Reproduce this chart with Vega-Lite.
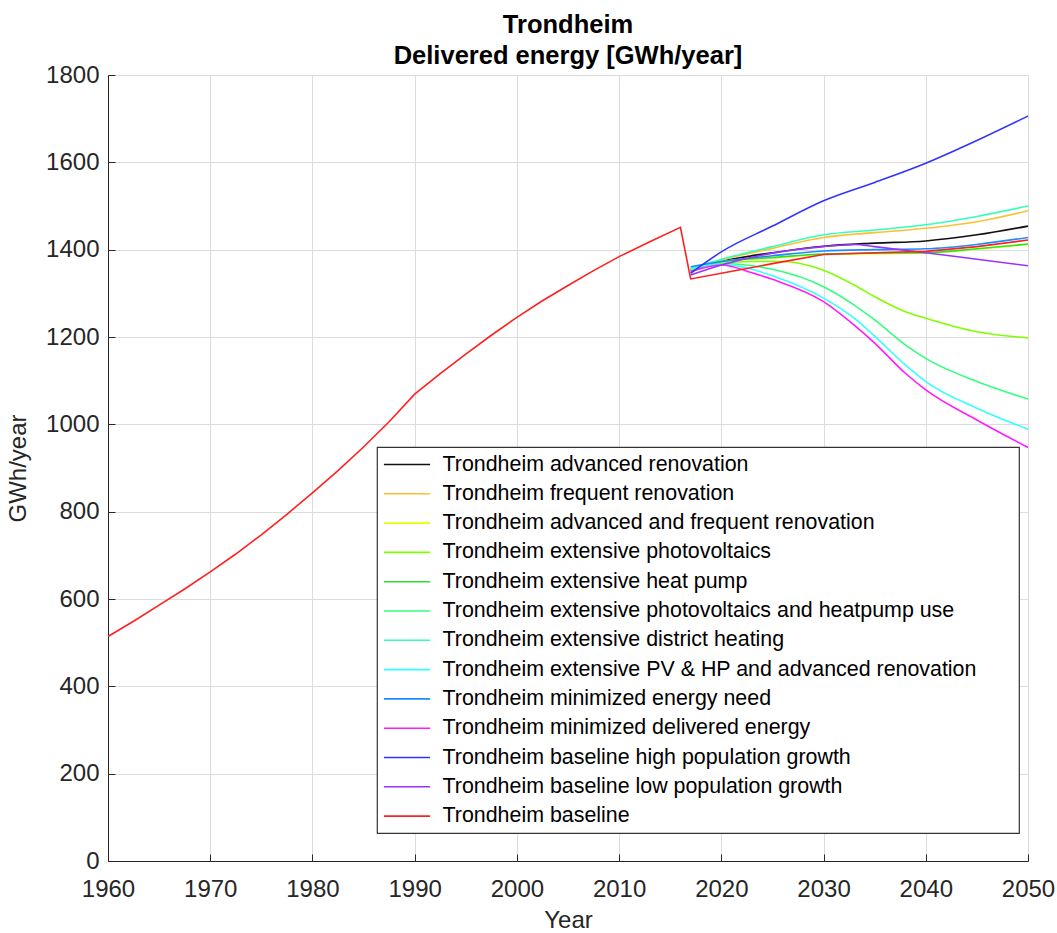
{
  "$schema": "https://vega.github.io/schema/vega-lite/v6.json",
  "autosize": {"type": "none"},
  "padding": {"left": 108, "top": 75, "right": 29, "bottom": 72},
  "width": 920,
  "height": 786,
  "background": "white",
  "config": {
    "view": {"stroke": null},
    "font": "Liberation Sans",
    "axis": {
      "labelFont": "Liberation Sans",
      "titleFont": "Liberation Sans",
      "labelFontSize": 24,
      "titleFontSize": 24,
      "titleFontWeight": "normal",
      "labelColor": "#262626",
      "titleColor": "#262626",
      "domainColor": "#262626",
      "tickColor": "#262626",
      "domainWidth": 1,
      "tickWidth": 1,
      "tickSize": -7,
      "gridColor": "#DCDCDC",
      "gridWidth": 1,
      "labelFlush": false,
      "labelOverlap": false
    }
  },
  "title": {
    "text": ["Trondheim", "Delivered energy [GWh/year]"],
    "fontSize": 25.5,
    "font": "Liberation Sans",
    "fontWeight": "bold",
    "color": "#000000",
    "lineHeight": 31,
    "offset": -6,
    "anchor": "middle"
  },
  "data": {
    "values": [
      {"s": "Trondheim advanced renovation", "year": 2017, "v": 1353},
      {"s": "Trondheim advanced renovation", "year": 2020, "v": 1373},
      {"s": "Trondheim advanced renovation", "year": 2025, "v": 1393},
      {"s": "Trondheim advanced renovation", "year": 2030, "v": 1408},
      {"s": "Trondheim advanced renovation", "year": 2035, "v": 1415},
      {"s": "Trondheim advanced renovation", "year": 2040, "v": 1420},
      {"s": "Trondheim advanced renovation", "year": 2045, "v": 1434},
      {"s": "Trondheim advanced renovation", "year": 2050, "v": 1454},

      {"s": "Trondheim frequent renovation", "year": 2017, "v": 1353},
      {"s": "Trondheim frequent renovation", "year": 2020, "v": 1376},
      {"s": "Trondheim frequent renovation", "year": 2025, "v": 1403},
      {"s": "Trondheim frequent renovation", "year": 2030, "v": 1428},
      {"s": "Trondheim frequent renovation", "year": 2035, "v": 1439},
      {"s": "Trondheim frequent renovation", "year": 2040, "v": 1449},
      {"s": "Trondheim frequent renovation", "year": 2045, "v": 1464},
      {"s": "Trondheim frequent renovation", "year": 2050, "v": 1489},

      {"s": "Trondheim advanced and frequent renovation", "year": 2017, "v": 1355},
      {"s": "Trondheim advanced and frequent renovation", "year": 2020, "v": 1372},
      {"s": "Trondheim advanced and frequent renovation", "year": 2025, "v": 1381},
      {"s": "Trondheim advanced and frequent renovation", "year": 2030, "v": 1389},
      {"s": "Trondheim advanced and frequent renovation", "year": 2035, "v": 1391},
      {"s": "Trondheim advanced and frequent renovation", "year": 2040, "v": 1392},
      {"s": "Trondheim advanced and frequent renovation", "year": 2045, "v": 1401},
      {"s": "Trondheim advanced and frequent renovation", "year": 2050, "v": 1412},

      {"s": "Trondheim extensive photovoltaics", "year": 2017, "v": 1350},
      {"s": "Trondheim extensive photovoltaics", "year": 2020, "v": 1369},
      {"s": "Trondheim extensive photovoltaics", "year": 2023, "v": 1373},
      {"s": "Trondheim extensive photovoltaics", "year": 2026, "v": 1373},
      {"s": "Trondheim extensive photovoltaics", "year": 2030, "v": 1353},
      {"s": "Trondheim extensive photovoltaics", "year": 2033, "v": 1319},
      {"s": "Trondheim extensive photovoltaics", "year": 2035, "v": 1292},
      {"s": "Trondheim extensive photovoltaics", "year": 2038, "v": 1258},
      {"s": "Trondheim extensive photovoltaics", "year": 2040, "v": 1243},
      {"s": "Trondheim extensive photovoltaics", "year": 2045, "v": 1212},
      {"s": "Trondheim extensive photovoltaics", "year": 2050, "v": 1198},

      {"s": "Trondheim extensive heat pump", "year": 2017, "v": 1357},
      {"s": "Trondheim extensive heat pump", "year": 2020, "v": 1373},
      {"s": "Trondheim extensive heat pump", "year": 2025, "v": 1382},
      {"s": "Trondheim extensive heat pump", "year": 2030, "v": 1390},
      {"s": "Trondheim extensive heat pump", "year": 2035, "v": 1392},
      {"s": "Trondheim extensive heat pump", "year": 2040, "v": 1393},
      {"s": "Trondheim extensive heat pump", "year": 2045, "v": 1402},
      {"s": "Trondheim extensive heat pump", "year": 2050, "v": 1413},

      {"s": "Trondheim extensive photovoltaics and heatpump use", "year": 2017, "v": 1352},
      {"s": "Trondheim extensive photovoltaics and heatpump use", "year": 2020, "v": 1369},
      {"s": "Trondheim extensive photovoltaics and heatpump use", "year": 2023, "v": 1363},
      {"s": "Trondheim extensive photovoltaics and heatpump use", "year": 2025, "v": 1355},
      {"s": "Trondheim extensive photovoltaics and heatpump use", "year": 2030, "v": 1315},
      {"s": "Trondheim extensive photovoltaics and heatpump use", "year": 2033, "v": 1273},
      {"s": "Trondheim extensive photovoltaics and heatpump use", "year": 2035, "v": 1239},
      {"s": "Trondheim extensive photovoltaics and heatpump use", "year": 2038, "v": 1182},
      {"s": "Trondheim extensive photovoltaics and heatpump use", "year": 2040, "v": 1151},
      {"s": "Trondheim extensive photovoltaics and heatpump use", "year": 2045, "v": 1098},
      {"s": "Trondheim extensive photovoltaics and heatpump use", "year": 2050, "v": 1058},

      {"s": "Trondheim extensive district heating", "year": 2017, "v": 1357},
      {"s": "Trondheim extensive district heating", "year": 2020, "v": 1378},
      {"s": "Trondheim extensive district heating", "year": 2025, "v": 1407},
      {"s": "Trondheim extensive district heating", "year": 2030, "v": 1434},
      {"s": "Trondheim extensive district heating", "year": 2035, "v": 1445},
      {"s": "Trondheim extensive district heating", "year": 2040, "v": 1457},
      {"s": "Trondheim extensive district heating", "year": 2045, "v": 1476},
      {"s": "Trondheim extensive district heating", "year": 2050, "v": 1500},

      {"s": "Trondheim extensive PV & HP and advanced renovation", "year": 2017, "v": 1357},
      {"s": "Trondheim extensive PV & HP and advanced renovation", "year": 2020, "v": 1366},
      {"s": "Trondheim extensive PV & HP and advanced renovation", "year": 2023, "v": 1355},
      {"s": "Trondheim extensive PV & HP and advanced renovation", "year": 2025, "v": 1340},
      {"s": "Trondheim extensive PV & HP and advanced renovation", "year": 2030, "v": 1289},
      {"s": "Trondheim extensive PV & HP and advanced renovation", "year": 2033, "v": 1243},
      {"s": "Trondheim extensive PV & HP and advanced renovation", "year": 2035, "v": 1202},
      {"s": "Trondheim extensive PV & HP and advanced renovation", "year": 2038, "v": 1136},
      {"s": "Trondheim extensive PV & HP and advanced renovation", "year": 2040, "v": 1098},
      {"s": "Trondheim extensive PV & HP and advanced renovation", "year": 2045, "v": 1037},
      {"s": "Trondheim extensive PV & HP and advanced renovation", "year": 2050, "v": 989},

      {"s": "Trondheim minimized energy need", "year": 2017, "v": 1361},
      {"s": "Trondheim minimized energy need", "year": 2020, "v": 1373},
      {"s": "Trondheim minimized energy need", "year": 2025, "v": 1386},
      {"s": "Trondheim minimized energy need", "year": 2030, "v": 1397},
      {"s": "Trondheim minimized energy need", "year": 2035, "v": 1400},
      {"s": "Trondheim minimized energy need", "year": 2040, "v": 1402},
      {"s": "Trondheim minimized energy need", "year": 2045, "v": 1412},
      {"s": "Trondheim minimized energy need", "year": 2050, "v": 1428},

      {"s": "Trondheim minimized delivered energy", "year": 2017, "v": 1350},
      {"s": "Trondheim minimized delivered energy", "year": 2020, "v": 1365},
      {"s": "Trondheim minimized delivered energy", "year": 2023, "v": 1347},
      {"s": "Trondheim minimized delivered energy", "year": 2025, "v": 1332},
      {"s": "Trondheim minimized delivered energy", "year": 2030, "v": 1281},
      {"s": "Trondheim minimized delivered energy", "year": 2033, "v": 1227},
      {"s": "Trondheim minimized delivered energy", "year": 2035, "v": 1186},
      {"s": "Trondheim minimized delivered energy", "year": 2038, "v": 1117},
      {"s": "Trondheim minimized delivered energy", "year": 2040, "v": 1079},
      {"s": "Trondheim minimized delivered energy", "year": 2045, "v": 1010},
      {"s": "Trondheim minimized delivered energy", "year": 2050, "v": 947},

      {"s": "Trondheim baseline high population growth", "year": 2017, "v": 1346},
      {"s": "Trondheim baseline high population growth", "year": 2020, "v": 1395},
      {"s": "Trondheim baseline high population growth", "year": 2025, "v": 1454},
      {"s": "Trondheim baseline high population growth", "year": 2030, "v": 1512},
      {"s": "Trondheim baseline high population growth", "year": 2035, "v": 1554},
      {"s": "Trondheim baseline high population growth", "year": 2040, "v": 1598},
      {"s": "Trondheim baseline high population growth", "year": 2045, "v": 1650},
      {"s": "Trondheim baseline high population growth", "year": 2050, "v": 1706},

      {"s": "Trondheim baseline low population growth", "year": 2017, "v": 1342},
      {"s": "Trondheim baseline low population growth", "year": 2020, "v": 1365},
      {"s": "Trondheim baseline low population growth", "year": 2025, "v": 1392},
      {"s": "Trondheim baseline low population growth", "year": 2030, "v": 1407},
      {"s": "Trondheim baseline low population growth", "year": 2033, "v": 1412},
      {"s": "Trondheim baseline low population growth", "year": 2035, "v": 1407},
      {"s": "Trondheim baseline low population growth", "year": 2040, "v": 1393},
      {"s": "Trondheim baseline low population growth", "year": 2045, "v": 1378},
      {"s": "Trondheim baseline low population growth", "year": 2050, "v": 1363},

      {"s": "Trondheim baseline", "year": 1960, "v": 514},
      {"s": "Trondheim baseline", "year": 1962.5, "v": 549},
      {"s": "Trondheim baseline", "year": 1965, "v": 586},
      {"s": "Trondheim baseline", "year": 1967.5, "v": 623},
      {"s": "Trondheim baseline", "year": 1970, "v": 662},
      {"s": "Trondheim baseline", "year": 1972.5, "v": 703},
      {"s": "Trondheim baseline", "year": 1975, "v": 747},
      {"s": "Trondheim baseline", "year": 1977.5, "v": 794},
      {"s": "Trondheim baseline", "year": 1980, "v": 843},
      {"s": "Trondheim baseline", "year": 1982.5, "v": 894},
      {"s": "Trondheim baseline", "year": 1985, "v": 948},
      {"s": "Trondheim baseline", "year": 1987.5, "v": 1006},
      {"s": "Trondheim baseline", "year": 1990, "v": 1069},
      {"s": "Trondheim baseline", "year": 1992.5, "v": 1116},
      {"s": "Trondheim baseline", "year": 1995, "v": 1161},
      {"s": "Trondheim baseline", "year": 1997.5, "v": 1204},
      {"s": "Trondheim baseline", "year": 2000, "v": 1245},
      {"s": "Trondheim baseline", "year": 2002.5, "v": 1283},
      {"s": "Trondheim baseline", "year": 2005, "v": 1318},
      {"s": "Trondheim baseline", "year": 2007.5, "v": 1352},
      {"s": "Trondheim baseline", "year": 2010, "v": 1384},
      {"s": "Trondheim baseline", "year": 2013, "v": 1418},
      {"s": "Trondheim baseline", "year": 2016, "v": 1451},
      {"s": "Trondheim baseline", "year": 2017, "v": 1333},
      {"s": "Trondheim baseline", "year": 2020, "v": 1346},
      {"s": "Trondheim baseline", "year": 2025, "v": 1368},
      {"s": "Trondheim baseline", "year": 2030, "v": 1389},
      {"s": "Trondheim baseline", "year": 2035, "v": 1393},
      {"s": "Trondheim baseline", "year": 2040, "v": 1396},
      {"s": "Trondheim baseline", "year": 2045, "v": 1407},
      {"s": "Trondheim baseline", "year": 2050, "v": 1422}
    ]
  },
  "encoding": {
    "x": {
      "field": "year",
      "type": "quantitative",
      "scale": {"domain": [1960, 2050], "nice": false, "zero": false},
      "axis": {
        "title": "Year",
        "values": [1960, 1970, 1980, 1990, 2000, 2010, 2020, 2030, 2040, 2050],
        "format": "d",
        "labelPadding": 23,
        "titlePadding": 7
      }
    },
    "y": {
      "field": "v",
      "type": "quantitative",
      "scale": {"domain": [0, 1800], "nice": false},
      "axis": {
        "title": "GWh/year",
        "values": [0, 200, 400, 600, 800, 1000, 1200, 1400, 1600, 1800],
        "format": "d",
        "labelPadding": 16,
        "titlePadding": 15
      }
    },
    "color": {
      "field": "s",
      "type": "nominal",
      "scale": {
        "domain": [
          "Trondheim advanced renovation",
          "Trondheim frequent renovation",
          "Trondheim advanced and frequent renovation",
          "Trondheim extensive photovoltaics",
          "Trondheim extensive heat pump",
          "Trondheim extensive photovoltaics and heatpump use",
          "Trondheim extensive district heating",
          "Trondheim extensive PV & HP and advanced renovation",
          "Trondheim minimized energy need",
          "Trondheim minimized delivered energy",
          "Trondheim baseline high population growth",
          "Trondheim baseline low population growth",
          "Trondheim baseline"
        ],
        "range": [
          "#111111", "#FFBF33", "#E6FF00", "#80FF00", "#2EE02E", "#33FF80", "#33FFBB",
          "#33FFFF", "#1A8CFF", "#FF1AFF", "#3333FF", "#9933FF", "#FF2020"
        ]
      },
      "legend": {
        "title": null,
        "orient": "none",
        "legendX": 269,
        "legendY": 372,
        "fillColor": "white",
        "strokeColor": "#333333",
        "padding": 6,
        "symbolType": "M-2.2,0L2.2,0",
        "symbolSize": 441,
        "symbolStrokeWidth": 1.6,
        "symbolOffset": 12.5,
        "labelOffset": 24,
        "labelFont": "Liberation Sans",
        "labelFontSize": 21.4,
        "labelColor": "#000000",
        "labelLimit": 900,
        "labelExpr": "datum.label + '\u00a0\u00a0\u00a0\u00a0\u00a0\u00a0\u200b'",
        "rowPadding": 7.3,
        "encode": {"legend": {"update": {"strokeWidth": {"value": 1.2}}}}
      }
    }
  },
  "layer": [
    {
      "transform": [{"filter": "datum.s !== 'Trondheim baseline'"}],
      "mark": {"type": "line", "strokeWidth": 1.6, "interpolate": "monotone"}
    },
    {
      "transform": [{"filter": "datum.s === 'Trondheim baseline'"}],
      "mark": {"type": "line", "strokeWidth": 1.6}
    }
  ]
}
